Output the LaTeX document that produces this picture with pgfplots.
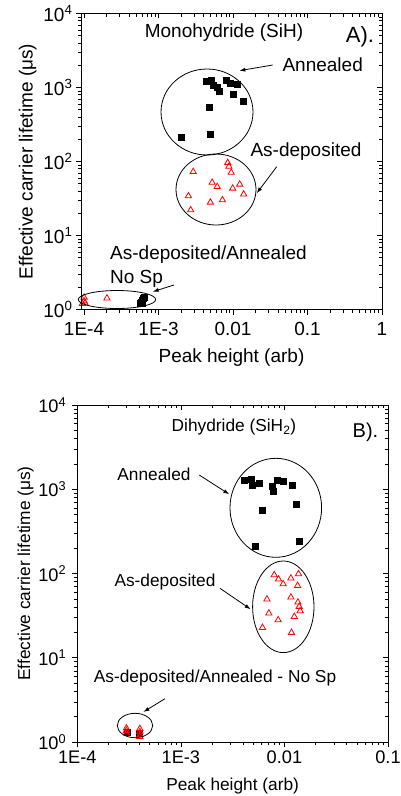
\documentclass[border=0pt]{standalone}
\usepackage{pgfplots}
\pgfplotsset{compat=1.18}
\usepackage{fontspec}
\setmainfont{Liberation Sans}
\usetikzlibrary{arrows.meta}
\newcommand{\fs}{\fontsize{19}{22}\selectfont}
\newcommand{\fsb}{\fontsize{17.3}{20}\selectfont}
\newcommand{\fst}{\fontsize{18.2}{21}\selectfont}

\pgfplotstableread{
x y
0.00442 1224
0.00517 1263
0.00534 1081
0.00604 1016
0.00662 897
0.00798 1263
0.00903 1150
0.01122 1110
0.0102 817
0.0135 657
0.00486 545
0.00501 235
0.00204 214
0.00057 1.20
0.00059 1.26
0.00061 1.32
0.00063 1.40
0.00065 1.47
0.00060 1.22
}\topann
\pgfplotstableread{
x y
0.00292 72.8
0.00849 96.3
0.00881 85.6
0.00946 71.0
0.00525 52.0
0.00613 45.6
0.0123 49.2
0.0099 43.4
0.0139 36.1
0.00252 34.2
0.00721 30.2
0.00497 28.1
0.0027 22.1
0.000100 1.46
0.000100 1.30
0.000095 1.20
0.000103 1.22
0.000203 1.42
}\topdep
\pgfplotstableread{
x y
0.00409 1268
0.00481 1318
0.00485 1128
0.00571 1181
0.00757 1097
0.0078 939
0.00858 1293
0.0098 1259
0.01197 1128
0.0129 665
0.00614 569
0.00519 209
0.0139 239
0.0003 1.30
0.0004 1.28
}\botann
\pgfplotstableread{
x y
0.00797 96.3
0.00877 85.6
0.00973 75.2
0.01155 87.9
0.01368 98.9
0.0134 71.8
0.00678 49.5
0.01155 52.3
0.0135 45.6
0.0139 40.5
0.0142 36.0
0.01245 30.8
0.00708 33.8
0.0087 28.1
0.00614 22.8
0.0117 19.9
0.000298 1.46
0.000298 1.36
0.000298 1.27
0.000402 1.44
0.000402 1.32
0.000402 1.22
0.000402 1.16
}\botdep

\pgfplotsset{
  mycommon/.style={scale only axis,
    axis line style={line width=0.8pt}, major tick length=5pt, minor tick length=3pt,
    every tick/.style={black, line width=0.6pt}, clip=false, ymin=1, ymax=10000,
    ytick={1,10,100,1000,10000}},
  mylower/.style={tick align=outside, xtick pos=left, ytick pos=left,
    yticklabels={10\textsuperscript{0},10\textsuperscript{1},10\textsuperscript{2},10\textsuperscript{3},10\textsuperscript{4}},
    ylabel={Effective carrier lifetime (μs)}, xlabel={Peak height (arb)}},
  myupper/.style={tick align=inside, xtick pos=right, ytick pos=right,
    xticklabels={}, yticklabels={}},
}
\tikzset{
  myann/.style={only marks, mark=square*, mark size=3pt, black, mark options={fill=black}},
  mydep/.style={only marks, mark=triangle, mark size=3.6pt, red, mark options={line width=0.8pt}},
}

\begin{document}
\begin{tikzpicture}
\useasboundingbox (0,0) rectangle (401pt,-796pt);
% ---- top panel ----
\begin{loglogaxis}[mycommon, mylower, at={(81pt,-309.5pt)}, anchor=south west,
  width=301pt, height=296pt, xmin=9.1e-5, xmax=1,
  tick label style={font=\fs}, label style={font=\fs},
  xticklabel style={yshift=-4pt}, xlabel style={yshift=-6pt},
  xtick={1e-4,1e-3,0.01,0.1,1}, xticklabels={1E-4,1E-3,0.01,0.1,1}]
\addplot[mydep] table {\topdep};
\addplot[myann] table {\topann};
\end{loglogaxis}
\begin{loglogaxis}[mycommon, myupper, at={(81pt,-309.5pt)}, anchor=south west,
  width=301pt, height=296pt, xmin=9.1e-5, xmax=1, xtick={1e-4,1e-3,0.01,0.1,1}]
\end{loglogaxis}
% ---- bottom panel ----
\begin{loglogaxis}[mycommon, mylower, at={(77.3pt,-742pt)}, anchor=south west,
  width=310.7pt, height=337pt, xmin=1e-4, xmax=0.1,
  tick label style={font=\fst, inner sep=1pt}, label style={font=\fsb},
  xticklabel style={yshift=-3pt}, yticklabel style={xshift=-5pt},
  xlabel style={yshift=-9pt},
  xtick={1e-4,1e-3,0.01,0.1}, xticklabels={1E-4,1E-3,0.01,0.1}]
\addplot[myann] table {\botann};
\addplot[mydep] table {\botdep};
\end{loglogaxis}
\begin{loglogaxis}[mycommon, myupper, at={(77.3pt,-742pt)}, anchor=south west,
  width=310.7pt, height=337pt, xmin=1e-4, xmax=0.1, xtick={1e-4,1e-3,0.01,0.1}]
\end{loglogaxis}

% ---- annotations ----
\begin{scope}[line width=0.8pt]
\draw (207pt,-112pt) ellipse [x radius=46pt, y radius=43pt];
\draw (216pt,-189.5pt) ellipse [x radius=40pt, y radius=35.5pt];
\draw (117pt,-299.5pt) ellipse [x radius=38.7pt, y radius=9pt];
\draw[-{Latex[length=6pt,width=4pt]}] (272.7pt,-65pt) -- (239.3pt,-70.7pt);
\draw[-{Latex[length=6pt,width=4pt]}] (276.7pt,-166.7pt) -- (256.7pt,-193.3pt);
\draw[-{Latex[length=6pt,width=4pt]}] (174pt,-285pt) -- (152.7pt,-291.7pt);
\draw (275.8pt,-507.8pt) ellipse [x radius=45.8pt, y radius=49.5pt];
\draw (283.3pt,-606.8pt) ellipse [x radius=30.7pt, y radius=45.8pt];
\draw (135pt,-725.5pt) ellipse [x radius=17.7pt, y radius=12.2pt];
\draw[-{Latex[length=6pt,width=4pt]}] (199.3pt,-475pt) -- (229.3pt,-494.3pt);
\draw[-{Latex[length=6pt,width=4pt]}] (220pt,-588.3pt) -- (250.7pt,-609.3pt);
\draw[-{Latex[length=6pt,width=4pt]}] (165pt,-698.7pt) -- (143.3pt,-712pt);
\end{scope}
\begin{scope}[every node/.style={font=\fs, inner sep=0pt, anchor=base}]
\node at (224pt,-37.5pt) {Monohydride (SiH)};
\node[font=\fontsize{22}{26}\selectfont] at (360pt,-42.7pt) {A).};
\node at (322.7pt,-71pt) {Annealed};
\node at (306pt,-156.7pt) {As-deposited};
\node[anchor=base west] at (110pt,-259pt) {As-deposited/Annealed};
\node[anchor=base west] at (110pt,-283.3pt) {No Sp};
\end{scope}
\begin{scope}[every node/.style={font=\fsb, inner sep=0pt, anchor=base}]
\node at (234pt,-431.7pt) {Dihydride (SiH\textsubscript{2})};
\node[font=\fontsize{20}{24}\selectfont] at (365.5pt,-437.3pt) {B).};
\node at (154pt,-480.7pt) {Annealed};
\node at (165pt,-586.7pt) {As-deposited};
\node at (215pt,-682pt) {As-deposited/Annealed - No Sp};
\end{scope}
\end{tikzpicture}
\end{document}
